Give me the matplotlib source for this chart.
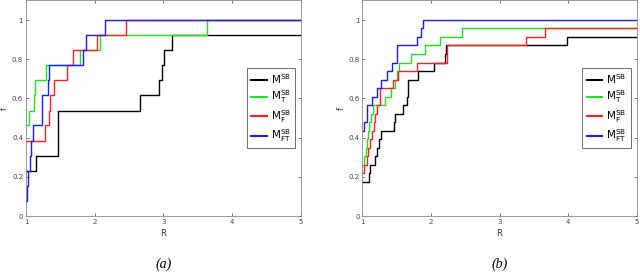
import matplotlib
matplotlib.use('Agg')
import matplotlib.pyplot as plt

# panel (a) step curves: R where each step starts, f after the step
black_a_R = [1.0, 1.14, 1.47, 2.66, 2.94, 2.985, 3.01, 3.13]
black_a_f = [0.231, 0.308, 0.538, 0.615, 0.692, 0.769, 0.846, 0.923]
green_a_R = [1.0, 1.05, 1.12, 1.135, 1.29, 1.785, 2.07, 3.63]
green_a_f = [0.462, 0.538, 0.615, 0.692, 0.769, 0.846, 0.923, 1.0]
red_a_R = [1.0, 1.28, 1.34, 1.35, 1.41, 1.59, 1.68, 2.04, 2.45]
red_a_f = [0.385, 0.462, 0.538, 0.615, 0.692, 0.769, 0.846, 0.923, 1.0]
blue_a_R = [1.0, 1.01, 1.024, 1.058, 1.08, 1.097, 1.23, 1.235, 1.315, 1.33, 1.835, 1.88, 2.15]
blue_a_f = [0.077, 0.154, 0.231, 0.308, 0.385, 0.462, 0.538, 0.615, 0.692, 0.769, 0.846, 0.923, 1.0]

# panel (b)
black_b_R = [1.0, 1.10, 1.105, 1.18, 1.22, 1.24, 1.27, 1.46, 1.48, 1.60, 1.647, 1.66, 1.67, 1.81, 2.04, 2.20, 2.22, 3.98]
black_b_f = [0.174, 0.217, 0.261, 0.304, 0.348, 0.391, 0.435, 0.478, 0.522, 0.565, 0.609, 0.652, 0.696, 0.739, 0.783, 0.826, 0.870, 0.913]
green_b_R = [1.0, 1.03, 1.05, 1.065, 1.08, 1.10, 1.13, 1.16, 1.33, 1.42, 1.47, 1.50, 1.53, 1.715, 1.91, 2.13, 2.45]
green_b_f = [0.261, 0.304, 0.348, 0.391, 0.435, 0.478, 0.522, 0.565, 0.609, 0.652, 0.696, 0.739, 0.783, 0.826, 0.870, 0.913, 0.957]
red_b_R = [1.0, 1.03, 1.07, 1.09, 1.11, 1.14, 1.17, 1.19, 1.21, 1.26, 1.45, 1.525, 1.80, 2.24, 3.38, 3.67]
red_b_f = [0.217, 0.261, 0.304, 0.348, 0.391, 0.435, 0.478, 0.522, 0.565, 0.652, 0.696, 0.739, 0.783, 0.870, 0.913, 0.957]
blue_b_R = [1.0, 1.03, 1.064, 1.14, 1.21, 1.27, 1.355, 1.43, 1.51, 1.80, 1.86, 1.89]
blue_b_f = [0.435, 0.478, 0.565, 0.609, 0.652, 0.696, 0.739, 0.783, 0.870, 0.913, 0.957, 1.0]

labels = [r'$\mathregular{M^{SB}}$', r'$\mathregular{M^{SB}_{T}}$',
          r'$\mathregular{M^{SB}_{F}}$', r'$\mathregular{M^{SB}_{FT}}$']
colors = ['black', '#22e022', '#ff2020', '#1a1aff']
x_ticks = [1, 2, 3, 4, 5]
y_ticks = [0, 0.2, 0.4, 0.6, 0.8, 1]
y_ticklabels = ['0', '0.2', '0.4', '0.6', '0.8', '1']

fig = plt.figure(figsize=(6.4, 2.75), dpi=100)
ax_a = fig.add_axes([0.0406, 0.2145, 0.4297, 0.784])
ax_b = fig.add_axes([0.5661, 0.2145, 0.4288, 0.784])

panels = [
    (ax_a, [(black_a_R, black_a_f), (green_a_R, green_a_f), (red_a_R, red_a_f), (blue_a_R, blue_a_f)], '(a)'),
    (ax_b, [(black_b_R, black_b_f), (green_b_R, green_b_f), (red_b_R, red_b_f), (blue_b_R, blue_b_f)], '(b)'),
]

for ax, series, cap in panels:
    for (R, f), c, lab in zip(series, colors, labels):
        ax.step(R + [5], f + [f[-1]], where='post', color=c, lw=1.0, label=lab)
    ax.set_xlim(1, 5)
    ax.set_ylim(0, 1.1)
    ax.set_xticks(x_ticks)
    ax.set_yticks(y_ticks)
    ax.set_yticklabels(y_ticklabels)
    ax.tick_params(direction='in', length=2.5, width=0.5, labelsize=5,
                   top=True, right=True, colors='#444444', pad=2)
    for sp in ax.spines.values():
        sp.set_color('#888888')
        sp.set_linewidth(0.6)
    ax.set_xlabel('R', fontsize=6, labelpad=3, color='#333333')
    ax.set_ylabel('f', fontsize=6, labelpad=2, color='#333333')
    leg = ax.legend(loc='center right', bbox_to_anchor=(0.978, 0.5), fontsize=7.5,
                    handlelength=1.5, handletextpad=0.4, labelspacing=0.25,
                    borderpad=0.4, borderaxespad=0, fancybox=False, framealpha=1)
    leg.get_frame().set_edgecolor('#555555')
    leg.get_frame().set_linewidth(0.6)
    for h in leg.get_lines():
        h.set_linewidth(1.5)
    ax.text(0.5, -0.223, cap, transform=ax.transAxes, ha='center', va='center',
            fontsize=10, family='Liberation Serif', style='italic')

fig.savefig('out.png', dpi=100)
